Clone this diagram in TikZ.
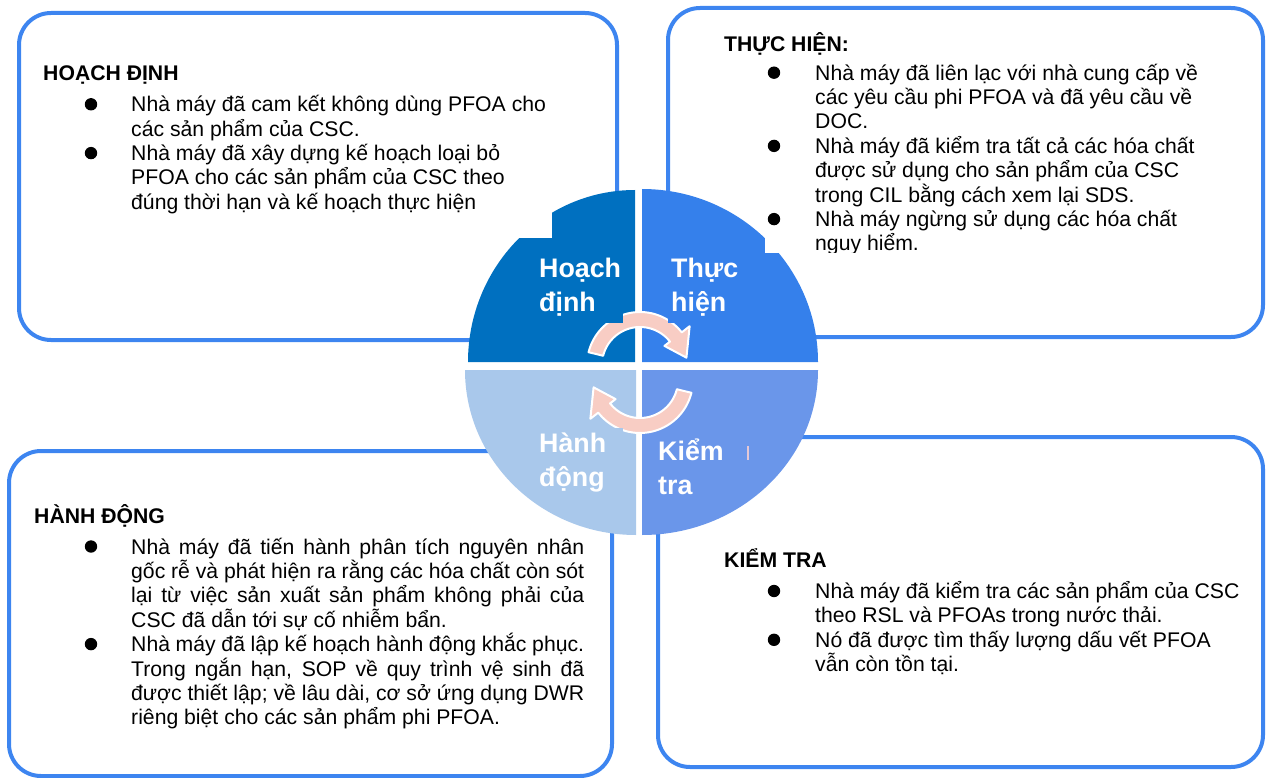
\documentclass[tikz,border=0pt]{standalone}
\usepackage{fontspec}
\setmainfont{Liberation Sans}
\definecolor{panelblue}{RGB}{61,133,240}
\definecolor{qdark}{RGB}{0,112,192}
\definecolor{qblue}{RGB}{53,128,235}
\definecolor{qmid}{RGB}{106,150,234}
\definecolor{qlight}{RGB}{169,200,235}
\definecolor{arrowpink}{RGB}{248,205,196}
\definecolor{markpink}{RGB}{228,200,214}
\begin{document}
\begin{tikzpicture}[x=1pt,y=-1pt,
  panel/.style={draw=panelblue, line width=4pt, rounded corners=32pt},
  body/.style={anchor=base west, inner sep=0pt, font=\fontsize{21.2}{24.4}\selectfont},
  head/.style={anchor=base west, inner sep=0pt, font=\bfseries\fontsize{21.2}{24.4}\selectfont},
  lbl/.style={anchor=base west, inner sep=0pt, text=white, font=\bfseries\fontsize{26.8}{34}\selectfont},
  bulletdot/.style={fill=black},
  pics/cyclearrow/.style={code={
    \filldraw[fill=arrowpink, draw=white, line width=2pt, line join=round]
      plot[domain=194:322, samples=40] ({53*cos(\x)},{53*sin(\x)})
      -- ({63*cos(322)},{63*sin(322)})
      -- ({47*cos(351)},{47*sin(351)})
      -- ({31*cos(322)},{31*sin(322)})
      -- plot[domain=322:194, samples=40] ({38*cos(\x)},{38*sin(\x)})
      -- cycle;
  }}]
\useasboundingbox (0,0) rectangle (1266,778);

% four rounded frames
\draw[panel] (19,13) rectangle (617,340);
\draw[panel] (668,8) rectangle (1263,337);
\draw[panel] (9,451) rectangle (612,776);
\draw[panel] (658,437) rectangle (1263,767);

% PDCA wheel: four quarter discs
\fill[qdark] (635,362) -- (468,362) .. controls (468,267) and (542.8,190) .. (635,190) -- cycle;
\fill[qblue] (642,362) -- (642,189) .. controls (739.2,189) and (818,266.5) .. (818,362) -- cycle;
\fill[qlight] (636,370) -- (465,370) .. controls (465,461.1) and (541.6,535) .. (636,535) -- cycle;
\fill[qmid] (642,370) -- (818,370) .. controls (818,461.1) and (739.2,535) .. (642,535) -- cycle;

% circular arrows
\pic at (640,365) {cyclearrow};
\pic[rotate=180] at (640,380) {cyclearrow};

% label backgrounds
\fill[qdark] (536,242) rectangle (623,323);
\fill[qblue] (668,242) rectangle (762,323);
\fill[qlight] (536,428) rectangle (623,500);
\fill[qmid] (657,435) rectangle (735,500);
\fill[markpink] (747,446) rectangle (749,460);

% white text frames over the wheel
\fill[white] (460,185) rectangle (552,238);
\fill[white] (765,185) rectangle (830,253);

% wheel labels
\node[lbl] (lblPlan) at (539,277.7) {\parbox[t]{90pt}{Hoạch\\định}};
\node[lbl] (lblDo) at (671,277.7) {\parbox[t]{90pt}{Thực\\hiện}};
\node[lbl] (lblAct) at (539,452.7) {\parbox[t]{90pt}{Hành\\động}};
\node[lbl] (lblCheck) at (658,460) {\parbox[t]{90pt}{Kiểm\\tra}};

% Plan
\node[head] (planTitle) at (43,81) {HOẠCH ĐỊNH};
\fill[bulletdot] (91,104.3) circle (6.2pt);
\fill[bulletdot] (91,153.1) circle (6.2pt);
\node[body] (planText) at (131,111.8) {\parbox[t]{480pt}{%
Nhà máy đã cam kết không dùng PFOA cho\\
các sản phẩm của CSC.\\
Nhà máy đã xây dựng kế hoạch loại bỏ\\
PFOA cho các sản phẩm của CSC theo\\
đúng thời hạn và kế hoạch thực hiện}};

% Do
\node[head] (doTitle) at (724,52) {THỰC HIỆN:};
\fill[bulletdot] (774,72.7) circle (6.2pt);
\fill[bulletdot] (774,145.9) circle (6.2pt);
\fill[bulletdot] (774,219.1) circle (6.2pt);
\begin{scope}
\clip (700,0) rectangle (1260,252.5);
\node[body] (doText) at (815,80.2) {\parbox[t]{440pt}{%
Nhà máy đã liên lạc với nhà cung cấp về\\
các yêu cầu phi PFOA và đã yêu cầu về\\
DOC.\\
Nhà máy đã kiểm tra tất cả các hóa chất\\
được sử dụng cho sản phẩm của CSC\\
trong CIL bằng cách xem lại SDS.\\
Nhà máy ngừng sử dụng các hóa chất\\
nguy hiểm.}};
\end{scope}

% Act
\node[head] (actTitle) at (34,523) {HÀNH ĐỘNG};
\fill[bulletdot] (91,546.5) circle (6.2pt);
\fill[bulletdot] (91,644.1) circle (6.2pt);
\node[body] (actText) at (131,554) {\parbox[t]{470pt}{%
\makebox[453pt][s]{Nhà máy đã tiến hành phân tích nguyên nhân}\\
\makebox[453pt][s]{gốc rễ và phát hiện ra rằng các hóa chất còn sót}\\
\makebox[453pt][s]{lại từ việc sản xuất sản phẩm không phải của}\\
CSC đã dẫn tới sự cố nhiễm bẩn.\\
\makebox[453pt][s]{Nhà máy đã lập kế hoạch hành động khắc phục.}\\
\makebox[453pt][s]{Trong ngắn hạn, SOP về quy trình vệ sinh đã}\\
\makebox[453pt][s]{được thiết lập; về lâu dài, cơ sở ứng dụng DWR}\\
riêng biệt cho các sản phẩm phi PFOA.}};

% Check
\node[head] (checkTitle) at (724,567) {KIỂM TRA};
\fill[bulletdot] (774,591) circle (6.2pt);
\fill[bulletdot] (774,639.8) circle (6.2pt);
\node[body] (checkText) at (815,598.5) {\parbox[t]{440pt}{%
Nhà máy đã kiểm tra các sản phẩm của CSC\\
theo RSL và PFOAs trong nước thải.\\
Nó đã được tìm thấy lượng dấu vết PFOA\\
vẫn còn tồn tại.}};
\end{tikzpicture}
\end{document}
